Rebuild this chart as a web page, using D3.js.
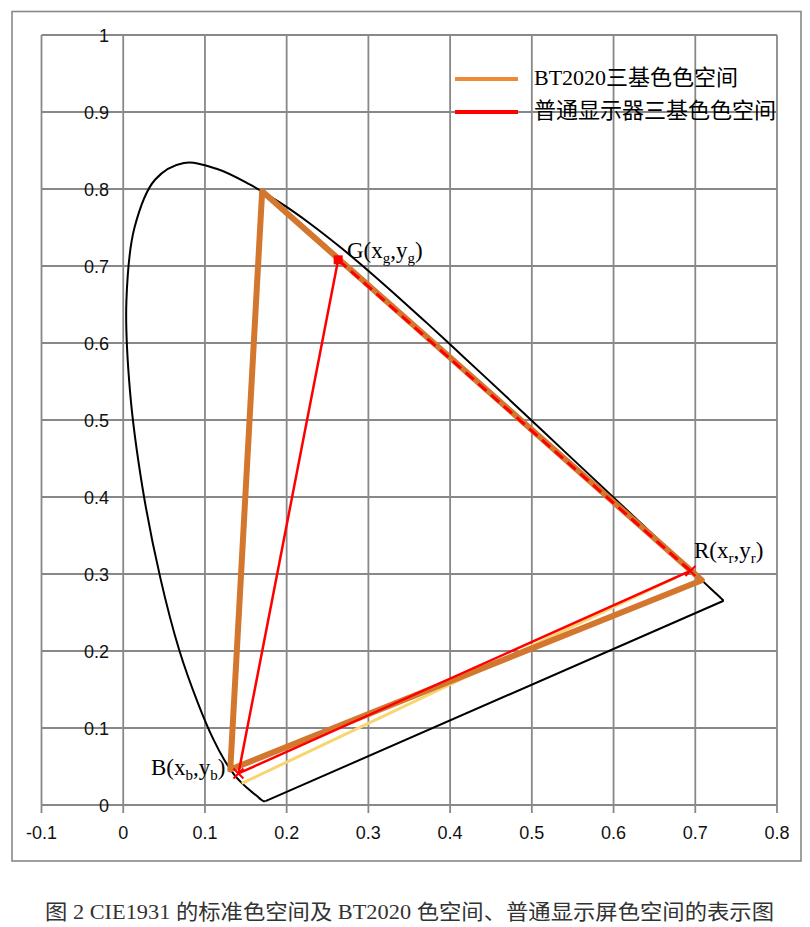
<!DOCTYPE html>
<html><head><meta charset="utf-8">
<script src="https://cdn.jsdelivr.net/npm/d3@7/dist/d3.min.js"></script>
<style>body{margin:0;background:#fff}svg{display:block}</style>
</head><body>
<svg id="chart" width="810" height="927"></svg>
<script>
// CIE 1931 spectral locus (380–700 nm, 5 nm steps)
const locusX = [0.1741,0.1740,0.1738,0.1736,0.1733,0.1730,0.1726,0.1721,0.1714,0.1703,0.1689,0.1669,0.1644,0.1611,0.1566,0.1510,0.1440,0.1355,0.1241,0.1096,0.0913,0.0687,0.0454,0.0235,0.0082,0.0039,0.0139,0.0389,0.0743,0.1142,0.1547,0.1929,0.2296,0.2658,0.3016,0.3373,0.3731,0.4087,0.4441,0.4788,0.5125,0.5448,0.5752,0.6029,0.6270,0.6482,0.6658,0.6801,0.6915,0.7006,0.7079,0.7140,0.7190,0.7230,0.7260,0.7283,0.7300,0.7311,0.7320,0.7327,0.7334,0.7340,0.7344,0.7346,0.7347];
const locusY = [0.0050,0.0050,0.0049,0.0049,0.0048,0.0048,0.0048,0.0048,0.0051,0.0058,0.0069,0.0086,0.0109,0.0138,0.0177,0.0227,0.0297,0.0399,0.0578,0.0868,0.1327,0.2007,0.2950,0.4127,0.5384,0.6548,0.7502,0.8120,0.8338,0.8262,0.8059,0.7816,0.7543,0.7243,0.6923,0.6589,0.6245,0.5896,0.5547,0.5202,0.4866,0.4544,0.4242,0.3965,0.3725,0.3514,0.3340,0.3197,0.3083,0.2993,0.2920,0.2859,0.2809,0.2770,0.2740,0.2717,0.2700,0.2689,0.2680,0.2673,0.2666,0.2660,0.2656,0.2654,0.2653];

// primaries: R, G, B
const primaryNames = ["R","G","B"];
const bt2020X = [0.708, 0.170, 0.131];
const bt2020Y = [0.292, 0.797, 0.046];
const displayX = [0.694, 0.263, 0.141];
const displayY = [0.304, 0.708, 0.041];
// light yellow line
const yellowX = [0.145, 0.677];
const yellowY = [0.028, 0.296];

const xTicks = [-0.1,0,0.1,0.2,0.3,0.4,0.5,0.6,0.7,0.8];
const xTickLabels = ["-0.1","0","0.1","0.2","0.3","0.4","0.5","0.6","0.7","0.8"];
const yTicks = [0,0.1,0.2,0.3,0.4,0.5,0.6,0.7,0.8,0.9,1];
const yTickLabels = ["0","0.1","0.2","0.3","0.4","0.5","0.6","0.7","0.8","0.9","1"];

const legendLabels = ["BT2020三基色色空间","普通显示器三基色色空间"];
const caption = "图 2 CIE1931 的标准色空间及 BT2020 色空间、普通显示屏色空间的表示图";

const svg = d3.select("#chart");
const x = d3.scaleLinear().domain([-0.1,0.8]).range([41.5,777]);
const y = d3.scaleLinear().domain([0,1]).range([805,35]);

const gridColor = "#888888";
const orange = "#D4772E";
const red = "#FF0000";
const yellow = "#F8D570";
const serif = "'Liberation Serif','Times New Roman','Noto Sans CJK SC',serif";
const sans = "'Liberation Sans',Arial,sans-serif";

// outer frame
svg.append("rect").attr("x",12).attr("y",11.5).attr("width",789).attr("height",849.5)
  .attr("fill","none").attr("stroke",gridColor).attr("stroke-width",1.6);

// grid
const grid = svg.append("g");
grid.selectAll("line.v").data(xTicks).join("line").attr("class","v")
  .attr("x1",d=>x(d)).attr("x2",d=>x(d)).attr("y1",y(1)).attr("y2",y(0)+8)
  .attr("stroke",gridColor).attr("stroke-width",1.8);
grid.selectAll("line.h").data(yTicks).join("line").attr("class","h")
  .attr("x1",x(-0.1)).attr("x2",x(0.8)).attr("y1",d=>y(d)).attr("y2",d=>y(d))
  .attr("stroke",gridColor).attr("stroke-width",1.8);

// tick labels
svg.append("g").selectAll("text").data(xTicks).join("text")
  .attr("x",d=>x(d)).attr("y",y(0)+34).attr("text-anchor","middle")
  .attr("font-family",sans).attr("font-size",18).attr("fill","#111")
  .text((d,i)=>xTickLabels[i]);
svg.append("g").selectAll("text").data(yTicks).join("text")
  .attr("x",109).attr("y",d=>y(d)+7).attr("text-anchor","end")
  .attr("font-family",sans).attr("font-size",18).attr("fill","#111")
  .text((d,i)=>yTickLabels[i]);

// spectral locus
const locus = locusX.map((v,i)=>[v,locusY[i]]);
svg.append("path").datum(locus)
  .attr("d", d3.line().x(d=>x(d[0])).y(d=>y(d[1])).curve(d3.curveCatmullRom.alpha(0.5)))
  .attr("fill","none").attr("stroke","#000").attr("stroke-width",2);
svg.append("path").datum([locus[locus.length-1], locus[0]])
  .attr("d", d3.line().x(d=>x(d[0])).y(d=>y(d[1])))
  .attr("fill","none").attr("stroke","#000").attr("stroke-width",2);

// yellow line
svg.append("path").datum(yellowX.map((v,i)=>[v,yellowY[i]]))
  .attr("d", d3.line().x(d=>x(d[0])).y(d=>y(d[1])))
  .attr("fill","none").attr("stroke",yellow).attr("stroke-width",3);

// BT2020 triangle
const bt = bt2020X.map((v,i)=>[v,bt2020Y[i]]);
svg.append("path").datum(bt)
  .attr("d", d3.line().x(d=>x(d[0])).y(d=>y(d[1])).curve(d3.curveLinearClosed))
  .attr("fill","none").attr("stroke",orange).attr("stroke-width",6).attr("stroke-linejoin","round");

// display triangle: R=0, G=1, B=2
const dp = displayX.map((v,i)=>[v,displayY[i]]);
const seg = d3.line().x(d=>x(d[0])).y(d=>y(d[1]));
svg.append("path").datum([dp[1],dp[2],dp[0]]).attr("d",seg)
  .attr("fill","none").attr("stroke",red).attr("stroke-width",2.5).attr("stroke-linejoin","round");
svg.append("path").datum([dp[1],dp[0]]).attr("d",seg)
  .attr("fill","none").attr("stroke",red).attr("stroke-width",3).attr("stroke-dasharray","11,6");

// markers
svg.append("rect").attr("x",x(dp[1][0])-4.5).attr("y",y(dp[1][1])-4.5).attr("width",9).attr("height",9).attr("fill",red);
[dp[0],dp[2]].forEach(p=>{
  const cx=x(p[0]), cy=y(p[1]), s=5;
  svg.append("path").attr("d",`M${cx-s},${cy-s}L${cx+s},${cy+s}M${cx-s},${cy+s}L${cx+s},${cy-s}`)
    .attr("stroke",red).attr("stroke-width",2);
});

// point labels
function ptLabel(px,py,letter,sub){
  const t = svg.append("text").attr("x",px).attr("y",py).attr("font-family",serif).attr("font-size",23).attr("fill","#000");
  t.append("tspan").text(letter+"(x");
  t.append("tspan").attr("font-size",15).attr("dy",5).text(sub);
  t.append("tspan").attr("dy",-5).text(",y");
  t.append("tspan").attr("font-size",15).attr("dy",5).text(sub);
  t.append("tspan").attr("dy",-5).text(")");
}
ptLabel(347,258,"G","g");
ptLabel(694,558,"R","r");
ptLabel(151,775,"B","b");

// legend
const legColors = ["#EE8A35", red];
const legY = [79, 112];
legendLabels.forEach((lab,i)=>{
  svg.append("line").attr("x1",455).attr("x2",518).attr("y1",legY[i]).attr("y2",legY[i])
    .attr("stroke",legColors[i]).attr("stroke-width",4);
  svg.append("text").attr("x",534).attr("y",legY[i]+6).attr("font-family",serif)
    .attr("font-size",22).attr("fill","#000").text(lab);
});

// caption
svg.append("text").attr("x",45).attr("y",919).attr("font-family",serif).attr("font-size",21)
  .attr("fill","#333").attr("textLength",729).attr("lengthAdjust","spacingAndGlyphs").text(caption);
</script>
</body></html>
